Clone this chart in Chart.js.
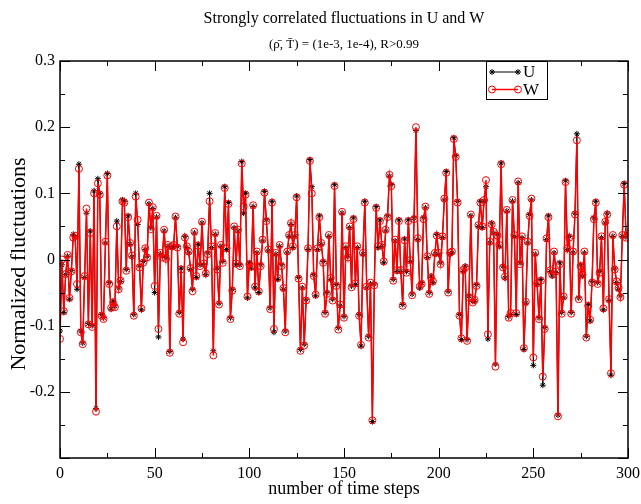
<!DOCTYPE html>
<html><head><meta charset="utf-8">
<script src="https://cdn.jsdelivr.net/npm/chart.js@4/dist/chart.umd.min.js"></script>
<style>html,body{margin:0;padding:0;background:#fff}#wrap{width:641px;height:504px}</style>
</head><body><div id="wrap"><canvas id="c" width="641" height="504"></canvas></div>
<script>
const titleText = "Strongly correlated fluctuations in U and W";
const subtitleText = "(\u03C1\u0304, T\u0304) = (1e-3, 1e-4), R>0.99";
const xAxisTitle = "number of time steps";
const yAxisTitle = "Normalized fluctuations";
const seriesNames = ["U", "W"];
const yTickLabels = ["", "-0.2", "-0.1", "0", "0.1", "0.2", "0.3"];
const xMajorTicks = [0, 50, 100, 150, 200, 250, 300];
const xMinorTicks = [25, 75, 125, 175, 225, 275];
const yMajorTicks = [-0.3, -0.2, -0.1, 0, 0.1, 0.2, 0.3];
const yMinorTicks = [-0.25, -0.15, -0.05, 0.05, 0.15, 0.25];

const U = [
-0.108,-0.008,-0.08,-0.023,0.005,-0.06,-0.017,0.038,0.034,-0.045,
0.144,-0.108,-0.126,-0.027,0.07,-0.097,0.043,-0.1,0.104,-0.225,
0.122,0.1,-0.083,-0.088,0.025,0.13,-0.035,-0.075,-0.063,-0.07,
0.058,-0.043,-0.033,0.09,0.088,-0.015,0.066,0.023,0.004,-0.083,
0.1,0.053,-0.01,-0.076,-0.003,0.015,0.005,0.084,0.048,0.077,
-0.05,0.064,-0.117,0.008,0.005,0.043,0.003,0.02,-0.139,0.018,
0.02,0.063,0.02,-0.08,-0.013,-0.12,0.035,0.018,0.01,-0.015,
-0.045,0.04,-0.027,0.023,-0.008,0.055,-0.008,-0.023,0.01,0.1,
0.018,-0.138,0.038,-0.013,-0.066,0.02,-0.003,0.11,0.015,0.086,
-0.088,-0.045,0.048,-0.008,0.043,-0.008,0.148,0.07,0.1,-0.058,
-0.005,-0.013,0.08,-0.043,0.01,-0.05,-0.008,0.028,0.103,0.06,
0.013,-0.073,0.088,-0.11,0.008,-0.03,0.02,-0.008,-0.045,-0.108,
0.01,0.035,0.053,0.018,0.035,0.096,-0.027,-0.136,-0.043,-0.128,
-0.06,0.015,0.151,0.11,-0.023,-0.055,0.015,0.066,0.023,-0.003,
-0.08,-0.05,0.035,-0.03,-0.06,0.113,-0.038,-0.103,-0.07,0.07,
-0.086,0.018,0.005,0.048,-0.04,0.063,-0.038,0.018,-0.083,-0.131,
0.008,0.088,-0.043,-0.116,-0.037,-0.245,-0.037,0.08,0.018,0.06,
0.02,-0.005,0.043,0.066,0.126,0.113,-0.03,0.028,-0.018,0.06,
-0.018,-0.068,0.031,-0.018,0.06,-0.003,-0.052,0.063,0.195,0.03,
-0.043,-0.035,0.063,0.078,0.003,-0.05,-0.025,-0.035,0.008,0.038,
0.008,-0.005,0.033,0.09,0.133,-0.048,0.008,0.01,0.184,0.157,
0.088,-0.083,-0.121,-0.018,-0.01,-0.121,-0.055,0.066,-0.063,-0.063,
-0.038,0.05,0.088,0.048,0.088,0.11,-0.12,0.025,0.055,0.04,
-0.158,0.038,0.02,0.146,-0.01,-0.028,0.073,-0.086,-0.083,0.088,
0.035,-0.083,0.116,-0.005,0.033,-0.136,-0.066,0.025,0.068,0.09,
-0.16,0.008,-0.038,-0.088,-0.03,-0.19,-0.103,0.03,0.066,-0.018,
-0.025,0.01,-0.02,-0.235,-0.005,-0.08,-0.058,0.119,0.015,0.035,
-0.08,0.01,0.07,0.19,-0.058,-0.008,-0.025,0.01,-0.116,-0.068,
-0.093,-0.033,0.063,0.088,-0.035,-0.018,0.033,-0.076,0.055,0.07,
-0.062,-0.175,0.035,-0.013,-0.035,-0.045,-0.055,0.035,0.115,0.035,0.038
];

const W = [
-0.12,0,-0.078,-0.022,0.007,-0.058,-0.018,0.033,0.036,-0.037,
0.137,-0.11,-0.128,-0.025,0.077,-0.098,0.04,-0.102,0.1,-0.23,
0.115,0.098,-0.085,-0.09,0.027,0.127,-0.037,-0.073,-0.065,-0.072,
0.05,-0.045,-0.032,0.088,0.086,-0.017,0.064,0.025,0.006,-0.085,
0.095,0.06,-0.012,-0.074,-0.005,0.017,0.003,0.086,0.046,0.079,
-0.04,0.066,-0.105,0.01,0.003,0.045,0.001,0.022,-0.141,0.02,
0.022,0.065,0.018,-0.082,-0.015,-0.125,0.033,0.02,0.012,-0.013,
-0.048,0.042,-0.025,0.021,-0.01,0.057,-0.006,-0.021,0.008,0.088,
0.02,-0.145,0.04,-0.015,-0.068,0.022,-0.005,0.108,0.017,0.084,
-0.09,-0.047,0.05,-0.006,0.045,-0.01,0.145,0.08,0.098,-0.056,
-0.007,-0.011,0.082,-0.041,0.012,-0.048,-0.01,0.03,0.101,0.058,
0.015,-0.075,0.086,-0.105,0.01,-0.028,0.022,-0.01,-0.043,-0.11,
0.012,0.037,0.055,0.02,0.037,0.094,-0.029,-0.138,-0.041,-0.13,
-0.062,0.017,0.149,0.1,-0.025,-0.053,0.017,0.064,0.025,-0.005,
-0.082,-0.052,0.037,-0.028,-0.062,0.111,-0.04,-0.106,-0.068,0.072,
-0.088,0.02,0.003,0.05,-0.042,0.061,-0.036,0.02,-0.085,-0.129,
0.01,0.086,-0.041,-0.118,-0.035,-0.243,-0.039,0.078,0.02,0.058,
0.022,-0.003,0.045,0.064,0.128,0.111,-0.032,0.03,-0.016,0.058,
-0.016,-0.07,0.029,-0.02,0.058,-0.001,-0.054,0.061,0.2,0.032,
-0.041,-0.037,0.061,0.08,0.005,-0.052,-0.027,-0.033,0.01,0.036,
0.01,-0.007,0.035,0.092,0.131,-0.05,0.01,0.012,0.182,0.155,
0.086,-0.085,-0.119,-0.016,-0.012,-0.123,-0.057,0.068,-0.065,-0.061,
-0.04,0.052,0.086,0.05,0.09,0.12,-0.113,0.027,0.053,0.042,
-0.162,0.036,0.022,0.144,-0.012,-0.026,0.075,-0.088,-0.081,0.09,
0.037,-0.081,0.118,-0.007,0.035,-0.134,-0.064,0.027,0.066,0.092,
-0.148,0.01,-0.036,-0.09,-0.032,-0.177,-0.105,0.032,0.064,-0.016,
-0.023,0.012,-0.018,-0.237,-0.007,-0.082,-0.056,0.117,0.017,0.033,
-0.082,0.012,0.068,0.18,-0.06,-0.01,-0.023,0.012,-0.118,-0.07,
-0.091,-0.035,0.061,0.086,-0.037,-0.02,0.035,-0.074,0.057,0.068,
-0.06,-0.172,0.037,-0.015,-0.033,-0.043,-0.057,0.037,0.113,0.033,0.04
];

const SERIF = "'Liberation Serif', 'DejaVu Serif', serif";

const decorPlugin = {
  id: 'decor',
  afterDraw(chart) {
    const ctx = chart.ctx, a = chart.chartArea, xs = chart.scales.x, ys = chart.scales.y;
    ctx.save();
    ctx.strokeStyle = '#000';
    ctx.lineWidth = 1.5;
    ctx.strokeRect(a.left, a.top, a.right - a.left, a.bottom - a.top);
    ctx.lineWidth = 1;
    const seg = (x1, y1, x2, y2) => { ctx.beginPath(); ctx.moveTo(x1, y1); ctx.lineTo(x2, y2); ctx.stroke(); };
    const tickX = (vals, len) => vals.forEach(v => {
      const p = Math.round(xs.getPixelForValue(v)) + 0.5;
      seg(p, a.bottom, p, a.bottom - len); seg(p, a.top, p, a.top + len);
    });
    const tickY = (vals, len) => vals.forEach(v => {
      const p = Math.round(ys.getPixelForValue(v)) + 0.5;
      seg(a.left, p, a.left + len, p); seg(a.right, p, a.right - len, p);
    });
    tickX(xMajorTicks, 10); tickX(xMinorTicks, 5);
    tickY(yMajorTicks, 10); tickY(yMinorTicks, 5);

    ctx.fillStyle = '#000';
    ctx.textAlign = 'center';
    ctx.textBaseline = 'alphabetic';
    ctx.font = '16px ' + SERIF;
    const cx = (a.left + a.right) / 2;
    ctx.fillText(titleText, cx, 23);
    ctx.font = '13px ' + SERIF;
    ctx.fillText(subtitleText, cx, 48);
    ctx.font = '18px ' + SERIF;
    ctx.textBaseline = 'middle';
    ctx.fillText(xAxisTitle, cx, 489);
    ctx.save();
    ctx.translate(19, 264);
    ctx.rotate(-Math.PI / 2);
    ctx.font = '22px ' + SERIF;
    ctx.fillText(yAxisTitle, 0, 0);
    ctx.restore();

    const bx = 486, by = a.top, bw = 61, bh = 38;
    ctx.fillStyle = '#fff';
    ctx.fillRect(bx, by, bw, bh);
    ctx.strokeStyle = '#000';
    ctx.lineWidth = 1;
    ctx.strokeRect(bx + 0.5, by + 0.5, bw, bh);
    const rows = [by + 11, by + 28.5];
    chart.data.datasets.forEach((ds, i) => {
      const yy = rows[i];
      ctx.strokeStyle = ds.borderColor;
      ctx.lineWidth = ds.borderWidth;
      seg(492, yy, 518, yy);
      [492, 518].forEach(px => {
        ctx.strokeStyle = ds.pointBorderColor;
        ctx.fillStyle = ds.pointBackgroundColor;
        ctx.lineWidth = ds.pointBorderWidth;
        Chart.helpers.drawPoint(ctx, {pointStyle: ds.pointStyle, radius: ds.pointRadius, borderWidth: ds.pointBorderWidth, rotation: 0}, px, yy);
      });
      ctx.fillStyle = '#000';
      ctx.textAlign = 'left';
      ctx.textBaseline = 'middle';
      ctx.font = '17px ' + SERIF;
      ctx.fillText(ds.label, 523, yy + 1);
    });
    ctx.restore();
  }
};

new Chart(document.getElementById('c'), {
  type: 'line',
  data: {
    datasets: [
      { label: seriesNames[0], data: U.map((v, i) => ({x: i, y: v})), borderColor: '#000000', borderWidth: 1,
        pointStyle: 'star', pointRadius: 3, pointBorderColor: '#000000', pointBackgroundColor: '#000000', pointBorderWidth: 1,
        tension: 0, fill: false, order: 2 },
      { label: seriesNames[1], data: W.map((v, i) => ({x: i, y: v})), borderColor: '#ff0000', borderWidth: 1.5,
        pointStyle: 'circle', pointRadius: 3.5, pointBorderColor: '#ff0000', pointBackgroundColor: 'rgba(255,255,255,0)', pointBorderWidth: 1,
        tension: 0, fill: false, order: 1 }
    ]
  },
  options: {
    responsive: false,
    animation: false,
    layout: { padding: { top: 61, right: 13, left: 0, bottom: 0 } },
    plugins: { legend: { display: false }, tooltip: { enabled: false }, title: { display: false } },
    scales: {
      x: {
        type: 'linear', min: 0, max: 300,
        afterFit(s) { s.height = 46; s.paddingLeft = 0; s.paddingRight = 0; },
        grid: { display: false, drawTicks: false },
        border: { display: false },
        ticks: { stepSize: 50, padding: 6, color: '#000', maxRotation: 0, autoSkip: false,
                 font: { family: SERIF, size: 16 } }
      },
      y: {
        type: 'linear', min: -0.3, max: 0.3,
        afterFit(s) { s.width = 60; s.paddingTop = 0; s.paddingBottom = 0; },
        grid: { display: false, drawTicks: false },
        border: { display: false },
        ticks: { stepSize: 0.1, padding: 5, color: '#000', autoSkip: false,
                 font: { family: SERIF, size: 16 },
                 callback: (v, i) => yTickLabels[i] }
      }
    }
  },
  plugins: [decorPlugin]
});
</script>
</body></html>
